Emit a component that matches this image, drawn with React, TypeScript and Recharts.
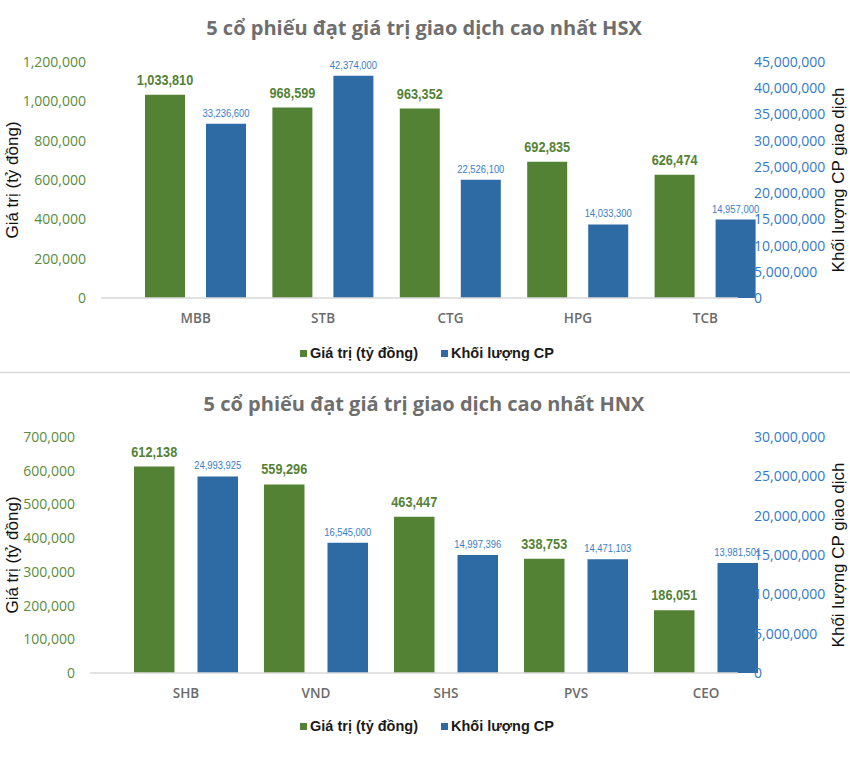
import React from 'react';
import { BarChart, Bar, XAxis, YAxis, LabelList, Legend } from 'recharts';

const hsxCategories = ['MBB', 'STB', 'CTG', 'HPG', 'TCB'];
const hsxValues = [1033810, 968599, 963352, 692835, 626474];
const hsxVolumes = [33236600, 42374000, 22526100, 14033300, 14957000];
const hsxLeftTicks = [0, 200000, 400000, 600000, 800000, 1000000, 1200000];
const hsxRightTicks = [0, 5000000, 10000000, 15000000, 20000000, 25000000, 30000000, 35000000, 40000000, 45000000];

const hnxCategories = ['SHB', 'VND', 'SHS', 'PVS', 'CEO'];
const hnxValues = [612138, 559296, 463447, 338753, 186051];
const hnxVolumes = [24993925, 16545000, 14997396, 14471103, 13981501];
const hnxLeftTicks = [0, 100000, 200000, 300000, 400000, 500000, 600000, 700000];
const hnxRightTicks = [0, 5000000, 10000000, 15000000, 20000000, 25000000, 30000000];

const GREEN = '#548235';
const BLUE = '#2E6BA4';
const GREEN_TEXT = '#5A8C3A';
const BLUE_TEXT = '#337AC4';
const SANS = "'Open Sans', 'Noto Sans', sans-serif";
const ARIAL = "'Liberation Sans', Arial, sans-serif";

const fmt = (v: any) => Number(v).toLocaleString('en-US');

const makeLabel = (color: string, size: number, weight: number, off: number) => (props: any) => {
  const cx = Number(props.x) + Number(props.width) / 2;
  const by = Number(props.y) - off;
  return (
    <text
      transform={`translate(${cx},${by}) scale(0.82,1)`}
      textAnchor="middle"
      fontFamily={ARIAL}
      fontSize={size}
      fontWeight={weight}
      fill={color}
    >
      {fmt(props.value)}
    </text>
  );
};

function LegendContent() {
  const item = (color: string, text: string, gap: number) => (
    <span style={{ display: 'inline-flex', alignItems: 'center', marginRight: gap }}>
      <span style={{ display: 'inline-block', width: 7, height: 7, background: color, marginRight: 3 }} />
      <span style={{ fontFamily: ARIAL, fontWeight: 700, fontSize: 14.5, color: '#1a1a1a' }}>{text}</span>
    </span>
  );
  return (
    <div style={{ display: 'flex', justifyContent: 'center', alignItems: 'center', height: 24, paddingLeft: 4 }}>
      {item(GREEN, 'Giá trị (tỷ đồng)', 23)}
      {item(BLUE, 'Khối lượng CP', 0)}
    </div>
  );
}

type ChartProps = {
  title: string;
  categories: string[];
  values: number[];
  volumes: number[];
  leftTicks: number[];
  rightTicks: number[];
  height: number;
  top: number;
  bottomMargin: number;
  leftWidth: number;
  padLeft: number;
  padRight: number;
  barGap: number;
  barSize: number;
  titleY: number;
  legendTop: number;
  divider: boolean;
};

function StockChart(p: ChartProps) {
  const data = p.categories.map((c, i) => ({ name: c, value: p.values[i], volume: p.volumes[i] }));
  const leftTitle = (props: any) => {
    const vb = props.viewBox;
    const cx = vb.x + 12;
    const cy = vb.y + vb.height / 2;
    return (
      <text x={cx} y={cy} transform={`rotate(-90 ${cx} ${cy})`} textAnchor="middle" dominantBaseline="central"
        fontFamily={ARIAL} fontSize={17} fill="#111">Giá trị (tỷ đồng)</text>
    );
  };
  const rightTitle = (props: any) => {
    const vb = props.viewBox;
    const cx = vb.x + 100;
    const cy = vb.y + vb.height / 2;
    return (
      <text x={cx} y={cy} transform={`rotate(-90 ${cx} ${cy})`} textAnchor="middle" dominantBaseline="central"
        fontFamily={ARIAL} fontSize={17} fill="#111">Khối lượng CP giao dịch</text>
    );
  };
  return (
    <BarChart
      width={850}
      height={p.height}
      data={data}
      margin={{ top: p.top, right: 0, left: 0, bottom: p.bottomMargin }}
      barGap={p.barGap}
    >
      <text x={424} y={p.titleY} textAnchor="middle" fontFamily={SANS} fontWeight={700} fontSize={20} fill="#6E6E6E">{p.title}</text>
      {p.divider && <line x1={0} x2={850} y1={p.height - 1.5} y2={p.height - 1.5} stroke="#DADADA" strokeWidth={1.5} />}
      <XAxis
        dataKey="name"
        height={30}
        padding={{ left: p.padLeft, right: p.padRight }}
        tickLine={false}
        tickSize={0}
        tickMargin={15}
        axisLine={{ stroke: '#D9D9D9', strokeWidth: 1.5 }}
        tick={{ fill: '#6B6B6B', fontFamily: SANS, fontWeight: 600, fontSize: 13.5 }}
        interval={0}
      />
      <YAxis
        yAxisId="left"
        orientation="left"
        width={p.leftWidth}
        domain={[0, p.leftTicks[p.leftTicks.length - 1]]}
        ticks={p.leftTicks}
        interval={0}
        tickFormatter={fmt}
        axisLine={false}
        tickLine={false}
        tickSize={0}
        tickMargin={15}
        tick={{ fill: GREEN_TEXT, fontFamily: SANS, fontSize: 14 }}
        label={{ content: leftTitle }}
      />
      <YAxis
        yAxisId="right"
        orientation="right"
        width={112}
        domain={[0, p.rightTicks[p.rightTicks.length - 1]]}
        ticks={p.rightTicks}
        interval={0}
        tickFormatter={fmt}
        axisLine={false}
        tickLine={false}
        tickSize={0}
        tickMargin={16}
        tick={{ fill: BLUE_TEXT, fontFamily: SANS, fontSize: 14 }}
        label={{ content: rightTitle }}
      />
      <Legend
        verticalAlign="bottom"
        content={() => <LegendContent />}
        wrapperStyle={{ top: p.legendTop, left: 0, width: 850, height: 24 }}
      />
      <Bar yAxisId="left" dataKey="value" name="Giá trị (tỷ đồng)" fill={GREEN} barSize={p.barSize} isAnimationActive={false}>
        <LabelList dataKey="value" content={makeLabel(GREEN, 15.5, 700, 10)} />
      </Bar>
      <Bar yAxisId="right" dataKey="volume" name="Khối lượng CP" fill={BLUE} barSize={p.barSize} isAnimationActive={false}>
        <LabelList dataKey="volume" content={makeLabel('#3A7EC6', 11.5, 400, 7)} />
      </Bar>
    </BarChart>
  );
}

export default function App() {
  return (
    <div style={{ position: 'absolute', left: 0, top: 0, width: 850, height: 774, background: '#fff' }}>
      <StockChart
        title="5 cổ phiếu đạt giá trị giao dịch cao nhất HSX"
        categories={hsxCategories}
        values={hsxValues}
        volumes={hsxVolumes}
        leftTicks={hsxLeftTicks}
        rightTicks={hsxRightTicks}
        height={374}
        top={62}
        bottomMargin={22}
        leftWidth={101}
        padLeft={31}
        padRight={-31}
        barGap={21}
        barSize={40}
        titleY={35}
        legendTop={341}
        divider={true}
      />
      <StockChart
        title="5 cổ phiếu đạt giá trị giao dịch cao nhất HNX"
        categories={hnxCategories}
        values={hnxValues}
        volumes={hnxVolumes}
        leftTicks={hnxLeftTicks}
        rightTicks={hnxRightTicks}
        height={400}
        top={63}
        bottomMargin={47}
        leftWidth={90}
        padLeft={31}
        padRight={-33}
        barGap={23}
        barSize={40.5}
        titleY={37}
        legendTop={340}
        divider={false}
      />
    </div>
  );
}
